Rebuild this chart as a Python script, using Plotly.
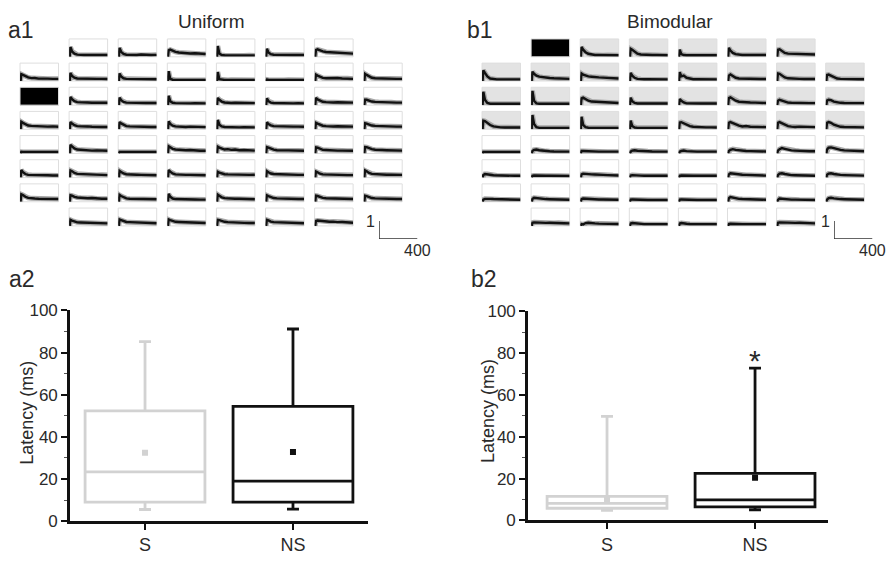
import plotly.graph_objects as go

# ---------------------------------------------------------------------------
# Data
# ---------------------------------------------------------------------------
# Time points (ms) at which each electrode response is sampled (0-400 ms window)
T_MS = [0, 8, 25, 50, 80, 115, 150, 190, 235, 285, 340, 400]

STIM = "stim"  # stimulating electrode

# Uniform network: normalised responses per electrode row (8x8 MEA, corners empty)
UNI_R0 = [None,
          [0, 0.55, 0.30, 0.18, 0.12, 0.10, 0.10, 0.11, 0.10, 0.11, 0.10, 0.10],
          [0, 0.50, 0.28, 0.16, 0.12, 0.11, 0.12, 0.10, 0.13, 0.11, 0.10, 0.11],
          [0, 0.36, 0.40, 0.33, 0.28, 0.24, 0.22, 0.23, 0.19, 0.20, 0.17, 0.16],
          [0, 0.60, 0.18, 0.10, 0.09, 0.08, 0.08, 0.09, 0.08, 0.08, 0.09, 0.08],
          [0, 0.45, 0.25, 0.15, 0.12, 0.11, 0.11, 0.10, 0.11, 0.10, 0.11, 0.10],
          [0, 0.38, 0.42, 0.36, 0.30, 0.27, 0.26, 0.24, 0.25, 0.21, 0.22, 0.18],
          None]
UNI_R1 = [[0, 0.38, 0.34, 0.26, 0.20, 0.16, 0.17, 0.13, 0.14, 0.13, 0.12, 0.12],
          [0, 0.45, 0.28, 0.18, 0.14, 0.13, 0.15, 0.12, 0.13, 0.12, 0.12, 0.11],
          [0, 0.42, 0.25, 0.15, 0.12, 0.12, 0.11, 0.13, 0.11, 0.11, 0.12, 0.10],
          [0, 0.55, 0.12, 0.07, 0.06, 0.06, 0.06, 0.06, 0.06, 0.07, 0.06, 0.06],
          [0, 0.50, 0.10, 0.07, 0.06, 0.06, 0.07, 0.06, 0.06, 0.06, 0.06, 0.06],
          [0, 0.08, 0.07, 0.06, 0.06, 0.07, 0.06, 0.06, 0.07, 0.06, 0.06, 0.06],
          [0, 0.35, 0.30, 0.22, 0.17, 0.15, 0.16, 0.13, 0.17, 0.14, 0.15, 0.12],
          [0, 0.40, 0.34, 0.25, 0.18, 0.15, 0.14, 0.13, 0.14, 0.12, 0.12, 0.12]]
UNI_R2 = [STIM,
          [0, 0.45, 0.34, 0.22, 0.17, 0.15, 0.14, 0.15, 0.13, 0.14, 0.13, 0.13],
          [0, 0.42, 0.28, 0.18, 0.14, 0.13, 0.14, 0.12, 0.13, 0.12, 0.12, 0.12],
          [0, 0.52, 0.22, 0.13, 0.11, 0.10, 0.11, 0.10, 0.10, 0.11, 0.10, 0.10],
          [0, 0.40, 0.30, 0.20, 0.15, 0.13, 0.12, 0.13, 0.12, 0.11, 0.12, 0.11],
          [0, 0.38, 0.22, 0.14, 0.12, 0.11, 0.11, 0.12, 0.11, 0.10, 0.11, 0.10],
          [0, 0.40, 0.32, 0.24, 0.19, 0.17, 0.18, 0.15, 0.16, 0.15, 0.14, 0.14],
          [0, 0.30, 0.30, 0.25, 0.20, 0.18, 0.17, 0.18, 0.15, 0.16, 0.14, 0.14]]
UNI_R3 = [[0, 0.42, 0.36, 0.27, 0.21, 0.19, 0.18, 0.16, 0.17, 0.15, 0.16, 0.14],
          [0, 0.40, 0.32, 0.23, 0.18, 0.16, 0.15, 0.16, 0.14, 0.15, 0.13, 0.13],
          [0, 0.40, 0.33, 0.24, 0.18, 0.16, 0.15, 0.15, 0.14, 0.15, 0.13, 0.13],
          [0, 0.44, 0.30, 0.20, 0.16, 0.14, 0.15, 0.13, 0.15, 0.13, 0.13, 0.12],
          [0, 0.52, 0.26, 0.16, 0.13, 0.12, 0.12, 0.12, 0.11, 0.12, 0.11, 0.11],
          [0, 0.38, 0.30, 0.22, 0.18, 0.17, 0.16, 0.17, 0.15, 0.15, 0.15, 0.14],
          [0, 0.36, 0.32, 0.26, 0.20, 0.18, 0.19, 0.16, 0.17, 0.16, 0.15, 0.15],
          [0, 0.34, 0.32, 0.27, 0.21, 0.19, 0.18, 0.18, 0.16, 0.17, 0.15, 0.15]]
UNI_R4 = [[0, 0.09, 0.08, 0.08, 0.08, 0.08, 0.09, 0.08, 0.08, 0.08, 0.08, 0.08],
          [0, 0.48, 0.40, 0.28, 0.22, 0.20, 0.18, 0.19, 0.16, 0.17, 0.15, 0.15],
          [0, 0.08, 0.08, 0.08, 0.08, 0.09, 0.08, 0.08, 0.08, 0.08, 0.08, 0.08],
          [0, 0.40, 0.35, 0.26, 0.22, 0.20, 0.19, 0.18, 0.19, 0.16, 0.15, 0.15],
          [0, 0.38, 0.33, 0.26, 0.22, 0.24, 0.20, 0.22, 0.18, 0.19, 0.16, 0.16],
          [0, 0.35, 0.32, 0.26, 0.21, 0.18, 0.19, 0.17, 0.17, 0.16, 0.16, 0.15],
          [0, 0.34, 0.32, 0.25, 0.20, 0.19, 0.17, 0.18, 0.16, 0.16, 0.15, 0.15],
          [0, 0.36, 0.35, 0.28, 0.24, 0.21, 0.22, 0.19, 0.18, 0.18, 0.16, 0.16]]
UNI_R5 = [[0, 0.42, 0.30, 0.20, 0.15, 0.14, 0.14, 0.13, 0.13, 0.13, 0.12, 0.12],
          [0, 0.40, 0.36, 0.26, 0.21, 0.20, 0.18, 0.17, 0.17, 0.15, 0.16, 0.14],
          [0, 0.38, 0.32, 0.23, 0.19, 0.17, 0.16, 0.16, 0.15, 0.14, 0.14, 0.13],
          [0, 0.42, 0.33, 0.23, 0.18, 0.16, 0.17, 0.15, 0.15, 0.14, 0.14, 0.13],
          [0, 0.32, 0.28, 0.23, 0.19, 0.18, 0.17, 0.18, 0.16, 0.17, 0.15, 0.16],
          [0, 0.36, 0.30, 0.23, 0.20, 0.19, 0.18, 0.19, 0.16, 0.17, 0.15, 0.15],
          [0, 0.34, 0.30, 0.22, 0.18, 0.17, 0.16, 0.17, 0.15, 0.15, 0.14, 0.14],
          [0, 0.40, 0.35, 0.26, 0.21, 0.19, 0.18, 0.17, 0.16, 0.16, 0.15, 0.15]]
UNI_R6 = [[0, 0.42, 0.38, 0.28, 0.22, 0.19, 0.18, 0.17, 0.16, 0.16, 0.15, 0.15],
          [0, 0.36, 0.34, 0.27, 0.24, 0.22, 0.23, 0.20, 0.21, 0.18, 0.17, 0.17],
          [0, 0.38, 0.32, 0.24, 0.19, 0.17, 0.17, 0.16, 0.15, 0.15, 0.14, 0.14],
          [0, 0.44, 0.28, 0.18, 0.15, 0.14, 0.13, 0.14, 0.13, 0.13, 0.12, 0.12],
          [0, 0.40, 0.34, 0.25, 0.20, 0.18, 0.18, 0.17, 0.17, 0.15, 0.15, 0.14],
          [0, 0.36, 0.32, 0.25, 0.21, 0.19, 0.18, 0.19, 0.16, 0.17, 0.15, 0.15],
          [0, 0.34, 0.32, 0.26, 0.22, 0.20, 0.19, 0.18, 0.18, 0.16, 0.16, 0.15],
          [0, 0.34, 0.32, 0.26, 0.21, 0.19, 0.18, 0.17, 0.17, 0.16, 0.15, 0.15]]
UNI_R7 = [None,
          [0, 0.34, 0.30, 0.24, 0.20, 0.19, 0.18, 0.18, 0.16, 0.16, 0.15, 0.14],
          [0, 0.36, 0.33, 0.26, 0.22, 0.21, 0.20, 0.18, 0.19, 0.16, 0.16, 0.15],
          [0, 0.36, 0.32, 0.26, 0.23, 0.22, 0.21, 0.20, 0.19, 0.18, 0.16, 0.16],
          [0, 0.34, 0.32, 0.27, 0.23, 0.21, 0.21, 0.20, 0.18, 0.17, 0.16, 0.16],
          [0, 0.34, 0.31, 0.24, 0.21, 0.20, 0.19, 0.20, 0.17, 0.18, 0.15, 0.15],
          [0, 0.28, 0.30, 0.28, 0.25, 0.24, 0.23, 0.24, 0.21, 0.22, 0.20, 0.18],
          None]

# Bimodular network: upper four rows form one module (shaded), lower four the other
BIM_R0 = [None,
          STIM,
          [0, 0.55, 0.40, 0.26, 0.17, 0.12, 0.10, 0.10, 0.09, 0.10, 0.09, 0.09],
          [0, 0.45, 0.40, 0.28, 0.18, 0.13, 0.11, 0.10, 0.10, 0.10, 0.09, 0.09],
          [0, 0.40, 0.15, 0.10, 0.09, 0.09, 0.09, 0.10, 0.09, 0.09, 0.10, 0.09],
          [0, 0.50, 0.35, 0.22, 0.15, 0.12, 0.10, 0.11, 0.10, 0.10, 0.10, 0.10],
          [0, 0.40, 0.42, 0.33, 0.22, 0.18, 0.17, 0.16, 0.16, 0.15, 0.14, 0.13],
          None]
BIM_R1 = [[0, 0.60, 0.45, 0.25, 0.14, 0.10, 0.09, 0.09, 0.09, 0.09, 0.09, 0.09],
          [0, 0.52, 0.40, 0.30, 0.24, 0.21, 0.18, 0.17, 0.15, 0.14, 0.13, 0.12],
          [0, 0.42, 0.36, 0.30, 0.26, 0.24, 0.21, 0.20, 0.19, 0.17, 0.16, 0.14],
          [0, 0.45, 0.30, 0.18, 0.12, 0.10, 0.10, 0.10, 0.09, 0.10, 0.09, 0.09],
          [0, 0.50, 0.26, 0.30, 0.18, 0.12, 0.10, 0.10, 0.09, 0.10, 0.09, 0.09],
          [0, 0.30, 0.36, 0.26, 0.18, 0.14, 0.13, 0.12, 0.12, 0.11, 0.11, 0.11],
          [0, 0.42, 0.40, 0.30, 0.20, 0.15, 0.13, 0.12, 0.12, 0.11, 0.11, 0.11],
          [0, 0.34, 0.36, 0.30, 0.20, 0.14, 0.12, 0.11, 0.11, 0.11, 0.10, 0.10]]
BIM_R2 = [[0, 0.75, 0.30, 0.12, 0.08, 0.08, 0.08, 0.08, 0.08, 0.08, 0.08, 0.08],
          [0, 0.80, 0.25, 0.10, 0.08, 0.08, 0.08, 0.08, 0.08, 0.08, 0.08, 0.08],
          [0, 0.38, 0.42, 0.34, 0.25, 0.20, 0.19, 0.18, 0.16, 0.15, 0.13, 0.12],
          [0, 0.42, 0.22, 0.12, 0.09, 0.09, 0.09, 0.09, 0.09, 0.09, 0.09, 0.09],
          [0, 0.34, 0.24, 0.15, 0.10, 0.09, 0.09, 0.09, 0.09, 0.09, 0.09, 0.09],
          [0, 0.40, 0.44, 0.36, 0.25, 0.19, 0.17, 0.16, 0.15, 0.14, 0.13, 0.12],
          [0, 0.25, 0.30, 0.25, 0.18, 0.14, 0.13, 0.12, 0.12, 0.11, 0.11, 0.11],
          [0, 0.26, 0.30, 0.28, 0.20, 0.15, 0.13, 0.12, 0.12, 0.11, 0.11, 0.11]]
BIM_R3 = [[0, 0.48, 0.46, 0.36, 0.24, 0.16, 0.12, 0.11, 0.10, 0.10, 0.10, 0.10],
          [0, 0.80, 0.30, 0.12, 0.08, 0.08, 0.08, 0.08, 0.08, 0.08, 0.08, 0.08],
          [0, 0.70, 0.25, 0.12, 0.09, 0.08, 0.08, 0.08, 0.08, 0.08, 0.08, 0.08],
          [0, 0.48, 0.18, 0.10, 0.08, 0.08, 0.08, 0.08, 0.08, 0.08, 0.08, 0.08],
          [0, 0.38, 0.40, 0.34, 0.26, 0.18, 0.14, 0.12, 0.12, 0.11, 0.11, 0.10],
          [0, 0.36, 0.40, 0.34, 0.25, 0.20, 0.16, 0.18, 0.14, 0.13, 0.12, 0.12],
          [0, 0.36, 0.40, 0.34, 0.24, 0.18, 0.15, 0.13, 0.15, 0.13, 0.12, 0.12],
          [0, 0.36, 0.40, 0.36, 0.26, 0.18, 0.14, 0.13, 0.13, 0.12, 0.11, 0.11]]
BIM_R4 = [[0, 0.08, 0.08, 0.08, 0.08, 0.09, 0.08, 0.09, 0.08, 0.08, 0.08, 0.08],
          [0, 0.14, 0.20, 0.22, 0.18, 0.15, 0.13, 0.12, 0.11, 0.11, 0.10, 0.10],
          [0, 0.14, 0.14, 0.13, 0.12, 0.12, 0.11, 0.10, 0.10, 0.10, 0.10, 0.10],
          [0, 0.10, 0.16, 0.18, 0.15, 0.13, 0.14, 0.12, 0.11, 0.11, 0.10, 0.10],
          [0, 0.10, 0.14, 0.16, 0.13, 0.11, 0.10, 0.10, 0.10, 0.10, 0.10, 0.10],
          [0, 0.14, 0.20, 0.24, 0.20, 0.17, 0.16, 0.14, 0.13, 0.12, 0.12, 0.11],
          [0, 0.16, 0.24, 0.30, 0.26, 0.20, 0.17, 0.16, 0.14, 0.13, 0.12, 0.12],
          [0, 0.22, 0.32, 0.34, 0.30, 0.23, 0.20, 0.17, 0.15, 0.14, 0.13, 0.12]]
BIM_R5 = [[0, 0.14, 0.20, 0.20, 0.16, 0.13, 0.12, 0.11, 0.11, 0.10, 0.10, 0.10],
          [0, 0.10, 0.12, 0.11, 0.10, 0.10, 0.10, 0.10, 0.10, 0.10, 0.09, 0.09],
          [0, 0.18, 0.22, 0.20, 0.19, 0.18, 0.17, 0.18, 0.15, 0.14, 0.13, 0.12],
          [0, 0.12, 0.14, 0.12, 0.11, 0.11, 0.10, 0.10, 0.10, 0.10, 0.10, 0.10],
          [0, 0.10, 0.12, 0.11, 0.10, 0.10, 0.10, 0.10, 0.10, 0.10, 0.10, 0.10],
          [0, 0.18, 0.24, 0.22, 0.19, 0.17, 0.16, 0.15, 0.14, 0.12, 0.12, 0.11],
          [0, 0.14, 0.22, 0.24, 0.20, 0.16, 0.14, 0.13, 0.12, 0.11, 0.11, 0.10],
          [0, 0.16, 0.22, 0.24, 0.20, 0.16, 0.15, 0.14, 0.13, 0.12, 0.11, 0.11]]
BIM_R6 = [[0, 0.12, 0.16, 0.17, 0.16, 0.15, 0.14, 0.13, 0.12, 0.12, 0.11, 0.11],
          [0, 0.16, 0.22, 0.20, 0.18, 0.16, 0.15, 0.14, 0.14, 0.13, 0.12, 0.11],
          [0, 0.14, 0.18, 0.17, 0.15, 0.14, 0.14, 0.13, 0.13, 0.12, 0.11, 0.11],
          [0, 0.12, 0.13, 0.12, 0.11, 0.11, 0.10, 0.10, 0.10, 0.10, 0.10, 0.10],
          [0, 0.12, 0.13, 0.12, 0.11, 0.10, 0.10, 0.10, 0.10, 0.10, 0.10, 0.10],
          [0, 0.20, 0.26, 0.22, 0.18, 0.16, 0.15, 0.14, 0.13, 0.12, 0.11, 0.11],
          [0, 0.10, 0.18, 0.16, 0.14, 0.13, 0.12, 0.12, 0.11, 0.11, 0.10, 0.10],
          [0, 0.12, 0.20, 0.22, 0.19, 0.16, 0.15, 0.14, 0.13, 0.12, 0.12, 0.11]]
BIM_R7 = [None,
          [0, 0.18, 0.20, 0.19, 0.18, 0.18, 0.17, 0.18, 0.16, 0.17, 0.15, 0.14],
          [0, 0.10, 0.08, 0.16, 0.18, 0.15, 0.14, 0.13, 0.13, 0.12, 0.12, 0.11],
          [0, 0.14, 0.16, 0.14, 0.12, 0.11, 0.10, 0.10, 0.10, 0.10, 0.10, 0.10],
          [0, 0.14, 0.16, 0.13, 0.12, 0.11, 0.10, 0.10, 0.10, 0.10, 0.10, 0.10],
          [0, 0.10, 0.12, 0.11, 0.10, 0.10, 0.10, 0.10, 0.10, 0.10, 0.10, 0.10],
          [0, 0.18, 0.20, 0.19, 0.18, 0.18, 0.18, 0.17, 0.18, 0.17, 0.16, 0.14],
          None]

UNIFORM_ROWS = [UNI_R0, UNI_R1, UNI_R2, UNI_R3, UNI_R4, UNI_R5, UNI_R6, UNI_R7]
BIMODULAR_ROWS = [BIM_R0, BIM_R1, BIM_R2, BIM_R3, BIM_R4, BIM_R5, BIM_R6, BIM_R7]
BIM_SHADED_ROWS = [0, 1, 2, 3]

# Scale bar: 1 (normalised response) x 400 ms
SCALE_Y = 1
SCALE_X_MS = 400

# Latency summary (ms) for stimulated (S) and non-stimulated (NS) module electrodes
GROUPS = ["S", "NS"]
UNI_Q1 = [9.0, 9.0]
UNI_MEDIAN = [23.4, 19.0]
UNI_Q3 = [52.3, 54.5]
UNI_LOW = [5.5, 5.7]
UNI_HIGH = [85.2, 91.2]
UNI_MEAN = [32.4, 32.8]

BIM_Q1 = [5.8, 6.5]
BIM_MEDIAN = [8.1, 9.8]
BIM_Q3 = [11.5, 22.5]
BIM_LOW = [4.8, 5.0]
BIM_HIGH = [49.7, 72.8]
BIM_MEAN = [9.8, 20.4]
SIG_VALUE = 79.5  # height of the significance asterisk (NS, bimodular)

Y_TICKS = [0, 20, 40, 60, 80, 100]

# ---------------------------------------------------------------------------
# Layout helpers
# ---------------------------------------------------------------------------
W, H = 889, 562
FONT = "Liberation Sans, Arial, Helvetica, sans-serif"
TEXT = "#2a2a2a"
GREY_GROUP = "#d2d2d2"
BLACK = "#111111"

CELL_W, CELL_H = 38.5, 18.5
COL_PITCH, ROW_PITCH = 49.1, 25.0
GRID_TOP = 31

fig = go.Figure()
layout_axes = {}
shapes = []
annotations = []
_axis_count = [0]


def new_axes(px0, px1, py0, py1, xrange, yrange, xopts=None, yopts=None):
    """Create an x/y axis pair occupying the pixel box (px0..px1, py0..py1)."""
    _axis_count[0] += 1
    k = _axis_count[0]
    sfx = "" if k == 1 else str(k)
    xa = dict(domain=[px0 / W, px1 / W], range=xrange, anchor="y" + sfx,
              visible=False, fixedrange=True)
    ya = dict(domain=[1 - py1 / H, 1 - py0 / H], range=yrange, anchor="x" + sfx,
              visible=False, fixedrange=True)
    if xopts:
        xa.update(xopts)
    if yopts:
        ya.update(yopts)
    layout_axes["xaxis" + sfx] = xa
    layout_axes["yaxis" + sfx] = ya
    return "x" + sfx, "y" + sfx


def draw_grid(rows, x_left, shaded_rows):
    for r, row in enumerate(rows):
        for c, cell in enumerate(row):
            if cell is None:
                continue
            px0 = x_left + c * COL_PITCH
            py0 = GRID_TOP + r * ROW_PITCH
            xa, ya = new_axes(px0, px0 + CELL_W, py0, py0 + CELL_H,
                              [-6, 400], [0, 1])
            if cell == STIM:
                fill = "#000000"
            elif r in shaded_rows:
                fill = "#e3e3e3"
            else:
                fill = "#ffffff"
            shapes.append(dict(type="rect", xref=xa + " domain", yref=ya + " domain",
                               x0=0, x1=1, y0=0, y1=1, layer="below",
                               fillcolor=fill, line=dict(color="#dedede", width=1)))
            if cell == STIM:
                # empty trace so the subplot (and its black tile) is rendered
                fig.add_trace(go.Scatter(x=[], y=[], xaxis=xa, yaxis=ya,
                                         mode="lines", hoverinfo="skip"))
                continue
            fig.add_trace(go.Scatter(x=T_MS, y=cell, xaxis=xa, yaxis=ya,
                                     mode="lines", hoverinfo="skip",
                                     line=dict(color="#a8a8a8", width=5)))
            fig.add_trace(go.Scatter(x=T_MS, y=cell, xaxis=xa, yaxis=ya,
                                     mode="lines", hoverinfo="skip",
                                     line=dict(color=BLACK, width=2.4)))


def draw_scalebar(px_left, py_bottom):
    xa, ya = new_axes(px_left, px_left + CELL_W, py_bottom - CELL_H, py_bottom,
                      [0, 400], [0, 1])
    fig.add_trace(go.Scatter(x=[0, 0, SCALE_X_MS], y=[SCALE_Y, 0, 0],
                             xaxis=xa, yaxis=ya, mode="lines", hoverinfo="skip",
                             cliponaxis=False,
                             line=dict(color="#333333", width=1.5)))
    annotations.append(dict(x=0, y=SCALE_Y, xref=xa, yref=ya, text=str(SCALE_Y),
                            showarrow=False, xanchor="right", yanchor="middle",
                            xshift=-2, font=dict(size=16, color=TEXT, family=FONT)))
    annotations.append(dict(x=SCALE_X_MS, y=0, xref=xa, yref=ya,
                            text=str(SCALE_X_MS), showarrow=False,
                            xanchor="center", yanchor="top", yshift=-1,
                            font=dict(size=16, color=TEXT, family=FONT)))


def draw_boxes(px0, px1, py0, py1, xrange, q1, med, q3, lo, hi, mean):
    xa, ya = new_axes(
        px0, px1, py0, py1, xrange, [0, 100],
        xopts=dict(visible=True, type="category", showline=True, linecolor=BLACK,
                   linewidth=2.6, ticks="outside", ticklen=6, tickwidth=2.2,
                   tickcolor=BLACK, showgrid=False, zeroline=False,
                   tickfont=dict(size=18, color=TEXT, family=FONT)),
        yopts=dict(visible=True, showline=True, linecolor=BLACK, linewidth=2.6,
                   ticks="outside", ticklen=6, tickwidth=2.2, tickcolor=BLACK,
                   tickvals=Y_TICKS, showgrid=False, zeroline=False,
                   minor=dict(dtick=10, tick0=0, ticks="outside", ticklen=3,
                              tickwidth=1.2, tickcolor="#555555"),
                   tickfont=dict(size=17, color=TEXT, family=FONT)))
    for i, (g, col) in enumerate(zip(GROUPS, [GREY_GROUP, BLACK])):
        fig.add_trace(go.Box(x=[g], q1=[q1[i]], median=[med[i]], q3=[q3[i]],
                             lowerfence=[lo[i]], upperfence=[hi[i]],
                             xaxis=xa, yaxis=ya, width=0.81, whiskerwidth=0.1,
                             boxpoints=False, hoverinfo="skip",
                             fillcolor="rgba(255,255,255,0)",
                             line=dict(color=col, width=2.8)))
        fig.add_trace(go.Scatter(x=[g], y=[mean[i]], xaxis=xa, yaxis=ya,
                                 mode="markers", hoverinfo="skip",
                                 marker=dict(symbol="square", size=6, color=col)))
    return xa, ya


# ---------------------------------------------------------------------------
# Build figure
# ---------------------------------------------------------------------------
draw_grid(UNIFORM_ROWS, 20, [])
draw_grid(BIMODULAR_ROWS, 482, BIM_SHADED_ROWS)
draw_scalebar(379, 238)
draw_scalebar(834, 238)

draw_boxes(70, 368, 312, 530, [-0.507, 1.507],
           UNI_Q1, UNI_MEDIAN, UNI_Q3, UNI_LOW, UNI_HIGH, UNI_MEAN)
bx, by = draw_boxes(528, 828, 312.7, 529.3, [-0.534, 1.493],
                    BIM_Q1, BIM_MEDIAN, BIM_Q3, BIM_LOW, BIM_HIGH, BIM_MEAN)

annotations.append(dict(x="NS", y=SIG_VALUE, xref=bx, yref=by, text="*",
                        showarrow=False, xanchor="center", yanchor="middle",
                        yshift=-6, font=dict(size=30, color=TEXT, family=FONT)))


def paper_text(px, py, text, size, xanchor="left", angle=0):
    annotations.append(dict(x=px / W, y=1 - py / H, xref="paper", yref="paper",
                            text=text, showarrow=False, xanchor=xanchor,
                            yanchor="middle", textangle=angle,
                            font=dict(size=size, color=TEXT, family=FONT)))


paper_text(6, 22, "a1", 23)
paper_text(465, 22, "b1", 23)
paper_text(7, 279, "a2", 23)
paper_text(469, 279, "b2", 23)
paper_text(176, 13, "Uniform", 19)
paper_text(625, 13, "Bimodular", 19)
paper_text(27, 418, "Latency (ms)", 18, xanchor="center", angle=-90)
paper_text(488, 416, "Latency (ms)", 18, xanchor="center", angle=-90)

fig.update_layout(
    width=W, height=H, autosize=False,
    margin=dict(l=0, r=0, t=0, b=0, pad=0),
    paper_bgcolor="white", plot_bgcolor="rgba(0,0,0,0)",
    showlegend=False, boxmode="overlay",
    shapes=shapes, annotations=annotations,
    **layout_axes,
)

fig.write_html("out.html", config={"displayModeBar": False})
